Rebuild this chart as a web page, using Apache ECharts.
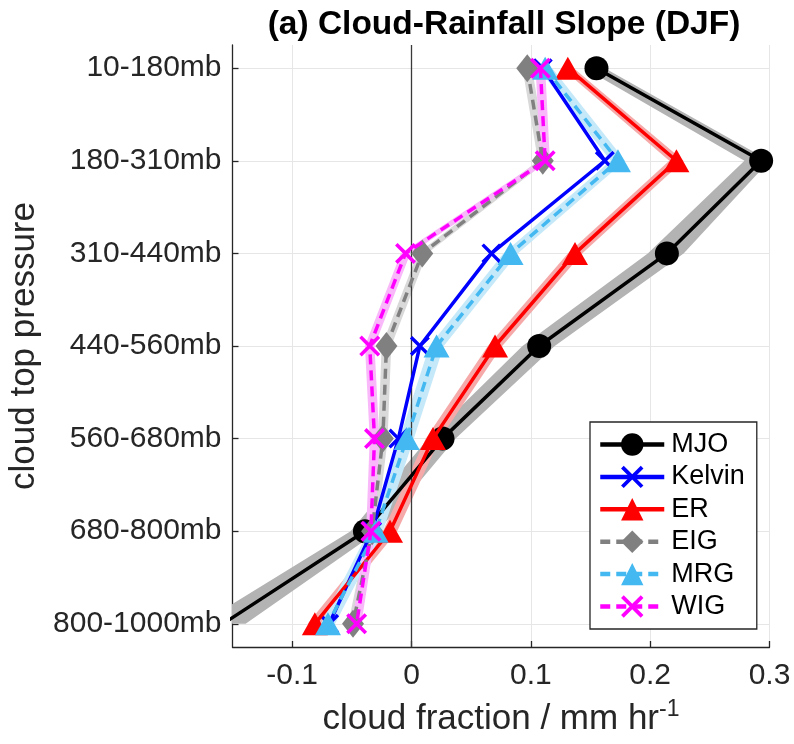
<!DOCTYPE html>
<html>
<head>
<meta charset="utf-8">
<script src="https://cdn.jsdelivr.net/npm/echarts@6/dist/echarts.min.js"></script>
<style>
  html, body { margin: 0; padding: 0; background: #ffffff; }
  #chart { width: 794px; height: 744px; }
</style>
</head>
<body>
<div id="chart"></div>
<script>
// Cloud-top pressure layers, top of the atmosphere first
const levels = ['10-180mb', '180-310mb', '310-440mb', '440-560mb', '560-680mb', '680-800mb', '800-1000mb'];
const xTicks = [-0.1, 0, 0.1, 0.2, 0.3];

// Regression slope of cloud fraction on rainfall, per wave type
const mjo    = [0.155, 0.293, 0.214, 0.107, 0.026, -0.039, -0.158];
const kelvin = [0.110, 0.162, 0.067, 0.007, -0.011, -0.033, -0.069];
const er     = [0.131, 0.222, 0.137, 0.070, 0.018, -0.018, -0.081];
const eig    = [0.097, 0.110, 0.009, -0.021, -0.024, -0.033, -0.049];
const mrg    = [0.112, 0.173, 0.083, 0.021, -0.004, -0.030, -0.070];
const wig    = [0.108, 0.112, -0.005, -0.035, -0.031, -0.034, -0.046];

// Uncertainty ranges (lower / upper bounds)
const mjoLo = [0.145, 0.279, 0.198, 0.093, 0.014, -0.051, -0.177];
const mjoHi = [0.162, 0.300, 0.228, 0.120, 0.037, -0.028, -0.139];
const erLo  = [0.126, 0.216, 0.131, 0.064, 0.012, -0.024, -0.087];
const erHi  = [0.136, 0.228, 0.143, 0.076, 0.024, -0.012, -0.075];
const eigLo = [0.093, 0.106, 0.005, -0.025, -0.028, -0.037, -0.053];
const eigHi = [0.101, 0.114, 0.013, -0.017, -0.020, -0.029, -0.045];
const mrgLo = [0.106, 0.167, 0.077, 0.015, -0.010, -0.036, -0.076];
const mrgHi = [0.118, 0.179, 0.089, 0.027, 0.002, -0.024, -0.064];
const wigLo = [0.104, 0.108, -0.009, -0.039, -0.035, -0.038, -0.050];
const wigHi = [0.112, 0.116, -0.001, -0.031, -0.027, -0.030, -0.042];

const levelPos = levels.map((_, i) => i + 1);

const FONT = '"Liberation Sans", Arial, Helvetica, sans-serif';
const XMARK = 'path://M0,1.2L1.2,0L5,3.8L8.8,0L10,1.2L6.2,5L10,8.8L8.8,10L5,6.2L1.2,10L0,8.8L3.8,5Z';

function profile(name, vals, color, symbol, size, dashed, z) {
  return {
    type: 'line',
    name: name,
    data: vals.map((v, i) => [v, levelPos[i]]),
    symbol: symbol,
    symbolSize: size,
    showSymbol: true,
    clip: true,
    z: z,
    lineStyle: { color: color, width: 3.5, type: dashed ? [10, 6] : 'solid' },
    itemStyle: { color: color, borderWidth: 0 },
    emphasis: { disabled: true }
  };
}

function band(lo, hi, color) {
  return {
    type: 'custom',
    silent: true,
    clip: true,
    z: 1,
    data: [[0, 1]],
    renderItem: function (params, api) {
      const upper = hi.map((v, i) => api.coord([v, levelPos[i]]));
      const lower = lo.map((v, i) => api.coord([v, levelPos[i]])).reverse();
      return { type: 'polygon', shape: { points: upper.concat(lower) }, style: { fill: color } };
    }
  };
}

const chart = echarts.init(document.getElementById('chart'), null, { renderer: 'canvas' });

const mjoSeries = profile('MJO', mjo, '#000000', 'circle', 24, false, 5);
// Vertical reference line at zero slope
mjoSeries.markLine = {
  silent: true,
  symbol: 'none',
  label: { show: false },
  lineStyle: { color: '#3a3a3a', width: 1.3, type: 'solid' },
  data: [{ xAxis: 0 }],
  z: 2
};

chart.setOption({
  animation: false,
  backgroundColor: '#ffffff',
  textStyle: { fontFamily: FONT },
  title: {
    text: '(a) Cloud-Rainfall Slope (DJF)',
    left: 499,
    top: 3,
    textAlign: 'center',
    textStyle: { fontFamily: FONT, fontSize: 33.5, fontWeight: 'bold', color: '#000000' }
  },
  grid: { left: 232.5, top: 45, width: 537, height: 602, outerBoundsMode: 'none' },
  xAxis: {
    type: 'value',
    min: -0.15,
    max: 0.3,
    name: '{a|cloud fraction / mm hr}{s|-1}',
    nameLocation: 'middle',
    nameGap: 51,
    nameTextStyle: {
      rich: {
        a: { fontFamily: FONT, fontSize: 35, color: '#262626', lineHeight: 42 },
        s: { fontFamily: FONT, fontSize: 23, color: '#262626', lineHeight: 22, verticalAlign: 'top' }
      }
    },
    axisLine: { show: true, onZero: false, lineStyle: { color: '#262626', width: 1.3 } },
    axisTick: { show: true, inside: true, length: 6, customValues: xTicks, lineStyle: { color: '#262626', width: 1.3 } },
    axisLabel: {
      customValues: xTicks,
      margin: 14,
      fontFamily: FONT,
      fontSize: 30,
      color: '#262626',
      formatter: v => (Math.abs(v) < 1e-9 ? '0' : String(Number(v.toFixed(1))))
    },
    splitLine: { show: true, lineStyle: { color: '#e6e6e6', width: 1 } }
  },
  yAxis: {
    type: 'value',
    inverse: true,
    min: 0.75,
    max: 7.25,
    name: 'cloud top pressure',
    nameLocation: 'middle',
    nameRotate: 90,
    nameGap: 189,
    nameTextStyle: { fontFamily: FONT, fontSize: 35, color: '#262626' },
    axisLine: { show: true, onZero: false, lineStyle: { color: '#262626', width: 1.3 } },
    axisTick: { show: true, inside: true, length: 6, customValues: levelPos, lineStyle: { color: '#262626', width: 1.3 } },
    axisLabel: {
      customValues: levelPos,
      margin: 11,
      fontFamily: FONT,
      fontSize: 30,
      color: '#262626',
      formatter: v => levels[Math.round(v) - 1]
    },
    splitLine: { show: true, lineStyle: { color: '#e6e6e6', width: 1 } }
  },
  legend: {
    orient: 'vertical',
    left: 590,
    top: 422,
    padding: [9, 12, 9, 8],
    itemWidth: 64,
    itemHeight: 28,
    itemGap: 5.4,
    backgroundColor: '#ffffff',
    borderColor: '#262626',
    borderWidth: 1.3,
    borderRadius: 0,
    lineStyle: { width: 4.5 },
    textStyle: { fontFamily: FONT, fontSize: 27, color: '#000000', padding: [0, 0, 0, 2] },
    data: ['MJO', 'Kelvin', 'ER', 'EIG', 'MRG', 'WIG'],
    selectedMode: false,
    z: 20
  },
  series: [
    band(mjoLo, mjoHi, '#b3b3b3'),
    band(erLo, erHi, '#f6a9a9'),
    band(eigLo, eigHi, '#d9d9d9'),
    band(mrgLo, mrgHi, '#c6e9f9'),
    band(wigLo, wigHi, '#f9b8f9'),
    mjoSeries,
    profile('Kelvin', kelvin, '#0000ff', XMARK, 20, false, 6),
    profile('ER', er, '#ff0000', 'triangle', [26, 23], false, 7),
    profile('EIG', eig, '#808080', 'diamond', [22, 28], true, 8),
    profile('MRG', mrg, '#44b8f0', 'triangle', [26, 23], true, 9),
    profile('WIG', wig, '#ff00ff', XMARK, 21, true, 10)
  ]
});
</script>
</body>
</html>
